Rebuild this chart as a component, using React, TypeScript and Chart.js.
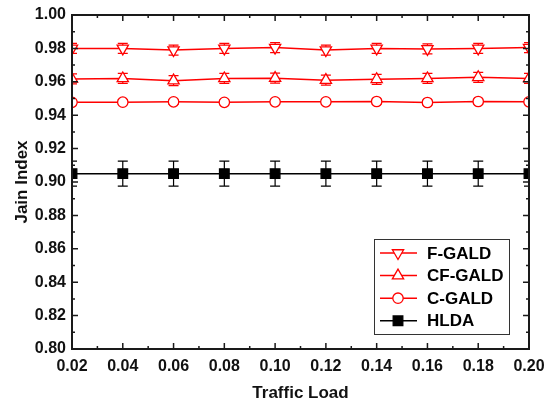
import React, { useEffect, useRef } from 'react';
import { Chart, registerables } from 'chart.js';
import { drawPoint } from 'chart.js/helpers';

Chart.register(...registerables);

const trafficLoad = [0.02, 0.04, 0.06, 0.08, 0.1, 0.12, 0.14, 0.16, 0.18, 0.2];
const fGald = [0.98, 0.98, 0.979, 0.98, 0.9805, 0.979, 0.98, 0.9797, 0.98, 0.9805];
const cfGald = [0.9617, 0.962, 0.9607, 0.962, 0.9622, 0.961, 0.9615, 0.962, 0.9627, 0.962];
const cGald = [0.9477, 0.9478, 0.948, 0.9477, 0.948, 0.948, 0.9482, 0.9476, 0.9482, 0.948];
const hlda = [0.905, 0.905, 0.905, 0.905, 0.905, 0.905, 0.905, 0.905, 0.905, 0.905];

const fGaldErr = [0.003, 0.003, 0.003, 0.003, 0.003, 0.003, 0.003, 0.003, 0.003, 0.003];
const cfGaldErr = [0.003, 0.003, 0.003, 0.003, 0.003, 0.003, 0.003, 0.003, 0.003, 0.003];
const cGaldErr = [0.0015, 0.0015, 0.0015, 0.0015, 0.0015, 0.0015, 0.0015, 0.0015, 0.0015, 0.0015];
const hldaErr = [0.0075, 0.0075, 0.0075, 0.0075, 0.0075, 0.0075, 0.0075, 0.0075, 0.0075, 0.0075];

const xTicks = [0.02, 0.04, 0.06, 0.08, 0.1, 0.12, 0.14, 0.16, 0.18, 0.2];
const yTicks = [0.8, 0.82, 0.84, 0.86, 0.88, 0.9, 0.92, 0.94, 0.96, 0.98, 1.0];

const seriesNames = ['F-GALD', 'CF-GALD', 'C-GALD', 'HLDA'];

const FONT = "Arial, 'Liberation Sans', Helvetica, sans-serif";
const RED = '#ff0000';

const clipPlugin = {
  id: 'areaClip',
  beforeDatasetsDraw(chart: any) {
    const { ctx, chartArea } = chart;
    ctx.save();
    ctx.beginPath();
    ctx.rect(chartArea.left, chartArea.top, chartArea.right - chartArea.left, chartArea.bottom - chartArea.top);
    ctx.clip();
  },
  afterDatasetsDraw(chart: any) {
    chart.ctx.restore();
  },
};

const errorBarPlugin = {
  id: 'errorBars',
  beforeDatasetsDraw(chart: any) {
    const { ctx } = chart;
    const xs = chart.scales.x;
    const ys = chart.scales.y;
    ctx.save();
    chart.data.datasets.forEach((ds: any) => {
      const errs = ds.errors as number[];
      ctx.strokeStyle = ds.borderColor;
      ctx.lineWidth = 1.2;
      ds.rawValues.forEach((v: number, i: number) => {
        const px = xs.getPixelForValue(trafficLoad[i]);
        const t = ys.getPixelForValue(v + errs[i]);
        const b = ys.getPixelForValue(v - errs[i]);
        const cap = 5;
        ctx.beginPath();
        ctx.moveTo(px, t);
        ctx.lineTo(px, b);
        ctx.moveTo(px - cap, t);
        ctx.lineTo(px + cap, t);
        ctx.moveTo(px - cap, b);
        ctx.lineTo(px + cap, b);
        ctx.stroke();
      });
    });
    ctx.restore();
  },
};

const framePlugin = {
  id: 'frame',
  afterDatasetsDraw(chart: any) {
    const { ctx, chartArea } = chart;
    const { left, right, top, bottom } = chartArea;
    const xs = chart.scales.x;
    const ys = chart.scales.y;
    ctx.save();
    ctx.strokeStyle = '#1a1a1a';
    ctx.lineWidth = 2;
    ctx.strokeRect(left, top, right - left, bottom - top);
    ctx.lineWidth = 1.5;
    const major = 6;
    const minor = 3;
    ctx.beginPath();
    xTicks.forEach((v, i) => {
      const px = xs.getPixelForValue(v);
      ctx.moveTo(px, bottom);
      ctx.lineTo(px, bottom - major);
      ctx.moveTo(px, top);
      ctx.lineTo(px, top + major);
      if (i < xTicks.length - 1) {
        const m = xs.getPixelForValue((v + xTicks[i + 1]) / 2);
        ctx.moveTo(m, bottom);
        ctx.lineTo(m, bottom - minor);
        ctx.moveTo(m, top);
        ctx.lineTo(m, top + minor);
      }
    });
    yTicks.forEach((v, i) => {
      const py = ys.getPixelForValue(v);
      ctx.moveTo(left, py);
      ctx.lineTo(left + major, py);
      ctx.moveTo(right, py);
      ctx.lineTo(right - major, py);
      if (i < yTicks.length - 1) {
        const m = ys.getPixelForValue((v + yTicks[i + 1]) / 2);
        ctx.moveTo(left, m);
        ctx.lineTo(left + minor, m);
        ctx.moveTo(right, m);
        ctx.lineTo(right - minor, m);
      }
    });
    ctx.stroke();
    ctx.restore();
  },
};

const legendPlugin = {
  id: 'legendDraw',
  afterDraw(c: any) {
    const { ctx, chartArea } = c;
    const boxW = 135;
    const boxH = 95;
    const bx = chartArea.right - 20 - boxW;
    const by = chartArea.bottom - 15 - boxH;
    ctx.save();
    ctx.fillStyle = '#ffffff';
    ctx.fillRect(bx, by, boxW, boxH);
    ctx.strokeStyle = '#333333';
    ctx.lineWidth = 1;
    ctx.strokeRect(bx + 0.5, by + 0.5, boxW, boxH);
    c.data.datasets.forEach((ds: any, i: number) => {
      const cy = by + 14 + i * 22.6;
      ctx.strokeStyle = ds.borderColor;
      ctx.lineWidth = 1.5;
      ctx.beginPath();
      ctx.moveTo(bx + 6, cy);
      ctx.lineTo(bx + 43, cy);
      ctx.stroke();
      ctx.fillStyle = ds.pointBackgroundColor;
      ctx.strokeStyle = ds.pointBorderColor;
      ctx.lineWidth = ds.pointBorderWidth;
      drawPoint(
        ctx,
        {
          pointStyle: ds.pointStyle,
          rotation: ds.pointRotation || 0,
          radius: ds.pointRadius,
          borderWidth: ds.pointBorderWidth,
        } as any,
        bx + 24,
        cy
      );
      ctx.fillStyle = '#000000';
      ctx.font = `bold 17px ${FONT}`;
      ctx.textAlign = 'left';
      ctx.textBaseline = 'middle';
      ctx.fillText(ds.label, bx + 53, cy + 1);
    });
    ctx.restore();
  },
};

export default function App() {
  const ref = useRef<HTMLCanvasElement | null>(null);

  useEffect(() => {
    if (!ref.current) return;
    const mk = (
      label: string,
      data: number[],
      errors: number[],
      color: string,
      style: string,
      rotation: number,
      radius: number,
      fill: string
    ) => ({
      label,
      data: data.map((v, i) => ({ x: trafficLoad[i], y: v })),
      rawValues: data,
      errors,
      borderColor: color,
      backgroundColor: fill,
      pointBackgroundColor: fill,
      pointBorderColor: color,
      borderWidth: 1.5,
      pointStyle: style,
      pointRotation: rotation,
      pointRadius: radius,
      pointBorderWidth: 1.3,
      clip: 0,
      tension: 0,
    });

    const datasets: any[] = [
      mk(seriesNames[0], fGald, fGaldErr, RED, 'triangle', 180, 6.5, '#ffffff'),
      mk(seriesNames[1], cfGald, cfGaldErr, RED, 'triangle', 0, 6.5, '#ffffff'),
      mk(seriesNames[2], cGald, cGaldErr, RED, 'circle', 0, 5.2, '#ffffff'),
      mk(seriesNames[3], hlda, hldaErr, '#000000', 'rect', 0, 6.8, '#000000'),
    ];

    const chart = new Chart(ref.current, {
      type: 'line',
      data: { datasets },
      options: {
        animation: false,
        responsive: false,
        maintainAspectRatio: false,
        layout: { padding: { left: 0, top: 15, right: 15, bottom: 0 } },
        plugins: {
          legend: { display: false },
          tooltip: { enabled: false },
        },
        scales: {
          x: {
            type: 'linear',
            min: 0.02,
            max: 0.2,
            afterBuildTicks: (s: any) => {
              s.ticks = xTicks.map((v) => ({ value: v }));
            },
            afterFit: (s: any) => {
              s.height = 57;
              s.paddingLeft = 0;
              s.paddingRight = 0;
            },
            grid: { display: false, drawTicks: false },
            border: { display: false },
            ticks: {
              padding: 8,
              color: '#111111',
              font: { family: FONT, size: 16, weight: 'bold' },
              callback: (v: any) => Number(v).toFixed(2),
              maxRotation: 0,
              autoSkip: false,
            },
            title: {
              display: true,
              text: 'Traffic Load',
              color: '#111111',
              font: { family: FONT, size: 17, weight: 'bold' },
              padding: { top: 2, bottom: 2 },
            },
          },
          y: {
            type: 'linear',
            min: 0.8,
            max: 1.0,
            afterBuildTicks: (s: any) => {
              s.ticks = yTicks.map((v) => ({ value: v }));
            },
            afterFit: (s: any) => {
              s.width = 72;
              s.paddingTop = 0;
              s.paddingBottom = 0;
            },
            grid: { display: false, drawTicks: false },
            border: { display: false },
            ticks: {
              padding: 6,
              color: '#111111',
              font: { family: FONT, size: 16, weight: 'bold' },
              callback: (v: any) => Number(v).toFixed(2),
              autoSkip: false,
            },
            title: {
              display: true,
              text: 'Jain Index',
              color: '#111111',
              font: { family: FONT, size: 17, weight: 'bold' },
              padding: { top: 12, bottom: 12 },
            },
          },
        },
      },
      plugins: [clipPlugin, errorBarPlugin, framePlugin, legendPlugin],
    } as any);
    return () => chart.destroy();
  }, []);

  return (
    <div style={{ position: 'absolute', left: 0, top: 0, width: 544, height: 406, background: '#fff' }}>
      <canvas ref={ref} width={544} height={406} />
    </div>
  );
}
